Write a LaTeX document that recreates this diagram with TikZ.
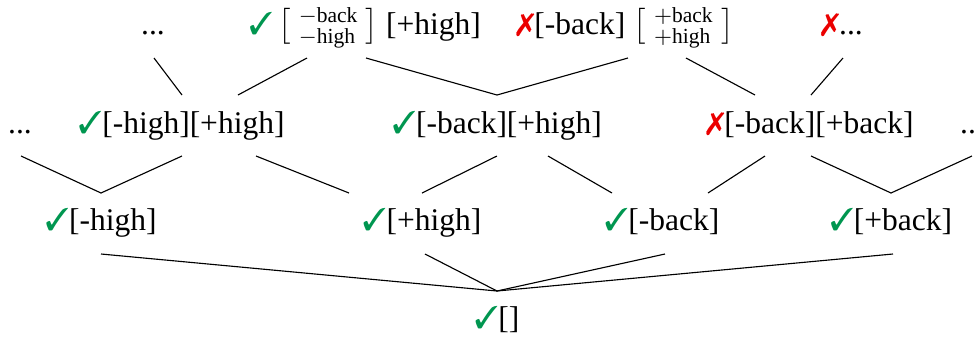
\documentclass[tikz,border=0pt]{standalone}
\usepackage{amsmath}
\usepackage{fontspec}
\setmainfont{Liberation Serif}
\usepackage{pifont}
\definecolor{okgreen}{RGB}{0,150,80}
\definecolor{badred}{RGB}{235,0,0}
\newcommand{\yes}{\textcolor{okgreen}{\ding{51}}}
\newcommand{\nope}{\textcolor{badred}{\ding{55}}}
\newcommand{\fmat}[2]{$\nulldelimiterspace=0pt{\left[\vcenter to 14.5pt{}\right.}\;\mbox{\fontsize{8.6}{9}\selectfont\renewcommand{\arraystretch}{0.85}\begin{tabular}{@{}l@{}}#1\\#2\end{tabular}}\;{\left]\vcenter to 14.5pt{}\right.}$}
\tikzset{
  lbl/.style={anchor=base, inner sep=0pt, font=\fontsize{12.6}{15}\selectfont},
  edge/.style={line width=0.45pt, black}
}
\begin{document}
\begin{tikzpicture}[x=0.4pt, y=-0.4pt]
\useasboundingbox (0,0) rectangle (976,336);
% row 1
\node[lbl] (r1a) at (153,34) {...};
\node[lbl] (r1b) at (365,34) {\yes\,\fmat{$-$back}{$-$high} [+high]};
\node[lbl] (r1c) at (625,34) {\nope[-back] \fmat{$+$back}{$+$high}};
\node[lbl] (r1d) at (842,34) {\nope...};
% row 2
\node[lbl] (r2a) at (20,133) {...};
\node[lbl] (r2b) at (181.5,133) {\yes[-high][+high]};
\node[lbl] (r2c) at (497,133) {\yes[-back][+high]};
\node[lbl] (r2d) at (810,133) {\nope[-back][+back]};
\node[lbl] (r2e) at (972,133) {...};
% row 3
\node[lbl] (r3a) at (101,230) {\yes[-high]};
\node[lbl] (r3b) at (422,230) {\yes[+high]};
\node[lbl] (r3c) at (662,230) {\yes[-back]};
\node[lbl] (r3d) at (891,230) {\yes[+back]};
% root
\node[lbl] (root) at (497,328) {\yes[]};
% connector end points
\coordinate (u1) at (154,58);  \coordinate (u2) at (307,58);
\coordinate (u3) at (366,58);  \coordinate (u4) at (628,58);
\coordinate (u5) at (686,58);  \coordinate (u6) at (843,58);
\coordinate (d1) at (182,95);  \coordinate (d2) at (238,95);
\coordinate (d3) at (497,95);  \coordinate (d4) at (755,95);
\coordinate (d5) at (811,95);
\coordinate (m1) at (21,156);  \coordinate (m2) at (182,156);
\coordinate (m3) at (256,156); \coordinate (m4) at (497,156);
\coordinate (m5) at (548,156); \coordinate (m6) at (765,156);
\coordinate (m7) at (811,156); \coordinate (m8) at (972,156);
\coordinate (n1) at (101,193); \coordinate (n2) at (349,193);
\coordinate (n3) at (422,193); \coordinate (n4) at (612,193);
\coordinate (n5) at (708,193); \coordinate (n6) at (891,193);
\coordinate (b1) at (101,254); \coordinate (b2) at (425,254);
\coordinate (b3) at (665,254); \coordinate (b4) at (893,254);
\coordinate (rt) at (497,291);
% connectors
\draw[edge] (u1) -- (d1);
\draw[edge] (u2) -- (d2);
\draw[edge] (u3) -- (d3);
\draw[edge] (u4) -- (d3);
\draw[edge] (u5) -- (d4);
\draw[edge] (u6) -- (d5);
\draw[edge] (m1) -- (n1);
\draw[edge] (m2) -- (n1);
\draw[edge] (m3) -- (n2);
\draw[edge] (m4) -- (n3);
\draw[edge] (m5) -- (n4);
\draw[edge] (m6) -- (n5);
\draw[edge] (m7) -- (n6);
\draw[edge] (m8) -- (n6);
\draw[edge] (b1) -- (rt);
\draw[edge] (b2) -- (rt);
\draw[edge] (b3) -- (rt);
\draw[edge] (b4) -- (rt);
\end{tikzpicture}
\end{document}
